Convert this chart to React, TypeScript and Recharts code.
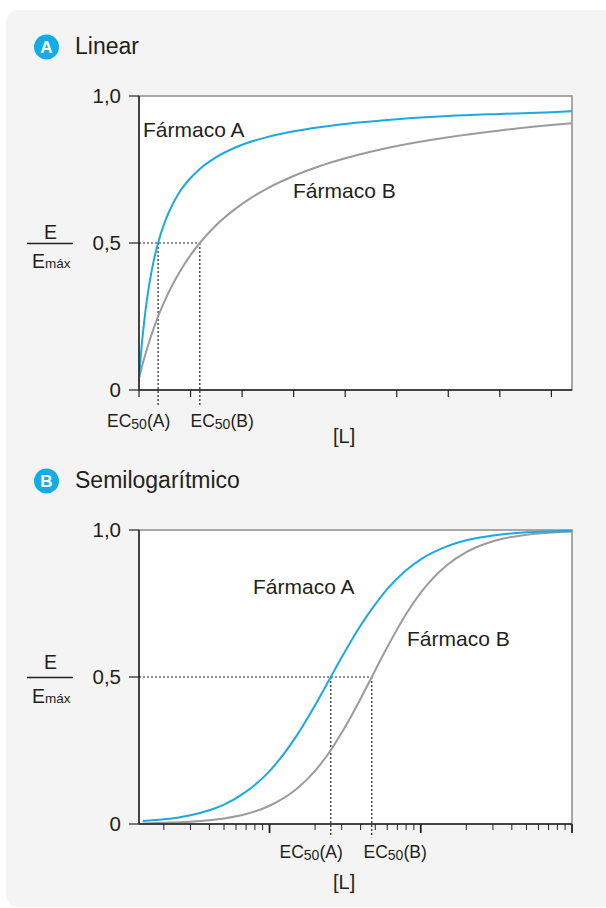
import React from 'react';
import { LineChart, Line, XAxis, YAxis, ReferenceLine, ReferenceArea } from 'recharts';

// ---- Panel A (linear) ----
const linearX = [0, 0.05, 0.1, 0.15, 0.2, 0.28, 0.37, 0.5, 0.65, 0.8, 1, 1.18, 1.5, 2, 2.5, 3, 3.5, 4, 5, 6, 7, 8, 8.4];
const linearDrugA = [0.04, 0.147, 0.232, 0.302, 0.36, 0.435, 0.5, 0.571, 0.631, 0.677, 0.721, 0.752, 0.792, 0.834, 0.861, 0.88, 0.894, 0.905, 0.921, 0.932, 0.939, 0.945, 0.948];
const linearDrugB = [0.04, 0.075, 0.107, 0.137, 0.165, 0.207, 0.25, 0.304, 0.358, 0.405, 0.459, 0.5, 0.561, 0.633, 0.687, 0.728, 0.761, 0.788, 0.83, 0.86, 0.883, 0.901, 0.907];
const linearTicks = [0, 1, 2, 3, 4, 5, 6, 7, 8];
const linearDomain = [0, 8.4];
const linearEC50A = 0.37;
const linearEC50B = 1.18;

// ---- Panel B (semilog) ----
const logX = [1.45, 2, 3, 4, 5, 7, 10, 15, 20, 25.4, 30, 40, 47.4, 60, 80, 100, 150, 200, 300, 500, 700, 1000];
const logDrugA = [0.01, 0.016, 0.03, 0.047, 0.066, 0.11, 0.18, 0.298, 0.404, 0.5, 0.567, 0.675, 0.731, 0.799, 0.863, 0.9, 0.945, 0.965, 0.981, 0.992, 0.995, 0.997];
const logDrugB = [0.002, 0.004, 0.008, 0.013, 0.019, 0.034, 0.062, 0.118, 0.181, 0.251, 0.31, 0.426, 0.5, 0.601, 0.714, 0.787, 0.882, 0.925, 0.962, 0.984, 0.991, 0.995];
const logMajorTicks = [10, 100, 1000];
const logMinorTicks = [2, 3, 4, 5, 6, 7, 8, 9, 20, 30, 40, 50, 60, 70, 80, 90, 200, 300, 400, 500, 600, 700, 800, 900];
const logDomain = [1.37, 1000];
const logEC50A = 25.4;
const logEC50B = 47.4;

const yTicks = [0, 0.5, 1];
const yLabels = ['0', '0,5', '1,0'];

const FONT = '"Liberation Sans", Arial, Helvetica, sans-serif';
const TEXT = '#231f20';
const BLUE = '#1aa9e1';
const GREY = '#9b9b9b';
const AXIS = '#222';

const linearData = linearX.map((x, i) => ({ x, a: linearDrugA[i], b: linearDrugB[i] }));
const logData = logX.map((x, i) => ({ x, a: logDrugA[i], b: logDrugB[i] }));

const fmtY = (v: number) => yLabels[yTicks.indexOf(v)] ?? String(v);

const LogTick = (props: any) => {
  const { x, y, payload } = props;
  const major = logMajorTicks.includes(payload.value);
  return (
    <line x1={x} x2={x} y1={y} y2={y + (major ? 9 : 6)} stroke={AXIS} strokeWidth={major ? 1.8 : 1} />
  );
};

const dash = { stroke: AXIS, strokeWidth: 1.2, strokeDasharray: '2 2' };

const yAxisProps = {
  type: 'number' as const,
  domain: [0, 1],
  ticks: yTicks,
  width: 60,
  interval: 0 as const,
  tickFormatter: fmtY,
  tick: { fontSize: 20.5, fill: TEXT, fontFamily: FONT },
  axisLine: { stroke: AXIS, strokeWidth: 1.5 },
  tickLine: { stroke: AXIS, strokeWidth: 1.2 },
  tickSize: 10,
  tickMargin: 8,
  allowDataOverflow: true,
};

const EC = ({ x, y, sub }: { x: number; y: number; sub: string }) => (
  <text x={x} y={y} fontSize={17.5} fill={TEXT} fontFamily={FONT}>
    EC<tspan fontSize={14} dy={2}>50</tspan>
    <tspan dy={-2}>({sub})</tspan>
  </text>
);

const Fraction = ({ eY, lineY, dY }: { eY: number; lineY: number; dY: number }) => (
  <g fontFamily={FONT} fill={TEXT}>
    <text x={50.5} y={eY} fontSize={19.5} textAnchor="middle">E</text>
    <line x1={27} x2={73} y1={lineY} y2={lineY} stroke={TEXT} strokeWidth={1.3} />
    <text x={32} y={dY} fontSize={19.5}>
      E<tspan fontSize={13.5}>máx</tspan>
    </text>
  </g>
);

const Badge = ({ cy, letter }: { cy: number; letter: string }) => (
  <g>
    <circle cx={46.5} cy={cy} r={12.5} fill="#14ace6" />
    <text x={46.5} y={cy + 6} fontSize={17} fontWeight="bold" fill="#fff" textAnchor="middle" fontFamily={FONT}>
      {letter}
    </text>
  </g>
);

export default function App() {
  return (
    <div style={{ position: 'absolute', left: 0, top: 0, width: 606, height: 908, background: '#fff', fontFamily: FONT, overflow: 'hidden' }}>
      <div style={{ position: 'absolute', left: 6, top: 10, width: 610, height: 897, borderRadius: 12, background: '#f4f4f4' }} />

      <div style={{ position: 'absolute', left: 0, top: 0 }}>
        <LineChart width={606} height={460} data={linearData} margin={{ top: 96, right: 34, bottom: 40, left: 79 }}>
          <ReferenceArea x1={linearDomain[0]} x2={linearDomain[1]} y1={0} y2={1} fill="#fff" fillOpacity={1} stroke="#8c8c8c" strokeWidth={1.5} ifOverflow="visible" />
          <ReferenceLine segment={[{ x: 0, y: 0.5 }, { x: linearEC50B, y: 0.5 }]} {...dash} ifOverflow="visible" />
          <ReferenceLine segment={[{ x: linearEC50A, y: 0.5 }, { x: linearEC50A, y: -0.055 }]} {...dash} ifOverflow="visible" />
          <ReferenceLine segment={[{ x: linearEC50B, y: 0.5 }, { x: linearEC50B, y: -0.055 }]} {...dash} ifOverflow="visible" />
          <Line dataKey="b" type="monotone" stroke={GREY} strokeWidth={2} dot={false} isAnimationActive={false} />
          <Line dataKey="a" type="monotone" stroke={BLUE} strokeWidth={2} dot={false} isAnimationActive={false} />
          <XAxis
            dataKey="x"
            type="number"
            domain={linearDomain}
            ticks={linearTicks}
            allowDataOverflow
            interval={0}
            tickFormatter={() => ''}
            height={30}
            axisLine={{ stroke: AXIS, strokeWidth: 1.5 }}
            tickLine={{ stroke: AXIS, strokeWidth: 1.2 }}
            tickSize={7}
          />
          <YAxis {...yAxisProps} />
        </LineChart>
      </div>

      <div style={{ position: 'absolute', left: 0, top: 434 }}>
        <LineChart width={606} height={460} data={logData} margin={{ top: 96, right: 34, bottom: 40, left: 79 }}>
          <ReferenceArea x1={logDomain[0]} x2={logDomain[1]} y1={0} y2={1} fill="#fff" fillOpacity={1} stroke="#8c8c8c" strokeWidth={1.5} ifOverflow="visible" />
          <ReferenceLine segment={[{ x: logDomain[0], y: 0.5 }, { x: logEC50B, y: 0.5 }]} {...dash} ifOverflow="visible" />
          <ReferenceLine segment={[{ x: logEC50A, y: 0.5 }, { x: logEC50A, y: -0.045 }]} {...dash} ifOverflow="visible" />
          <ReferenceLine segment={[{ x: logEC50B, y: 0.5 }, { x: logEC50B, y: -0.045 }]} {...dash} ifOverflow="visible" />
          <Line dataKey="b" type="monotone" stroke={GREY} strokeWidth={2} dot={false} isAnimationActive={false} />
          <Line dataKey="a" type="monotone" stroke={BLUE} strokeWidth={2} dot={false} isAnimationActive={false} />
          <XAxis
            dataKey="x"
            type="number"
            scale="log"
            domain={logDomain}
            ticks={[...logMinorTicks, ...logMajorTicks]}
            allowDataOverflow
            interval={0}
            height={30}
            axisLine={{ stroke: AXIS, strokeWidth: 1.5 }}
            tickLine={false}
            tickSize={0}
            tickMargin={0}
            tick={<LogTick />}
          />
          <YAxis {...yAxisProps} />
        </LineChart>
      </div>

      <svg width={606} height={908} style={{ position: 'absolute', left: 0, top: 0, pointerEvents: 'none' }}>
        <Badge cy={47} letter="A" />
        <text x={75} y={53.5} fontSize={23} fill={TEXT} fontFamily={FONT}>Linear</text>
        <Fraction eY={238.5} lineY={243.5} dY={267.5} />
        <text x={143} y={136.5} fontSize={21} fill={TEXT} fontFamily={FONT}>Fármaco A</text>
        <text x={293} y={198} fontSize={21} fill={TEXT} fontFamily={FONT}>Fármaco B</text>
        <EC x={107} y={426.5} sub="A" />
        <EC x={190.5} y={426.5} sub="B" />
        <text x={333} y={442.5} fontSize={20} fill={TEXT} fontFamily={FONT}>[L]</text>

        <Badge cy={481} letter="B" />
        <text x={75} y={487.5} fontSize={23} fill={TEXT} fontFamily={FONT}>Semilogarítmico</text>
        <Fraction eY={669} lineY={677.5} dY={703} />
        <text x={253} y={594} fontSize={21} fill={TEXT} fontFamily={FONT}>Fármaco A</text>
        <text x={407} y={646} fontSize={21} fill={TEXT} fontFamily={FONT}>Fármaco B</text>
        <EC x={279.5} y={858} sub="A" />
        <EC x={363.5} y={858} sub="B" />
        <text x={333} y={889} fontSize={20} fill={TEXT} fontFamily={FONT}>[L]</text>
      </svg>
    </div>
  );
}
